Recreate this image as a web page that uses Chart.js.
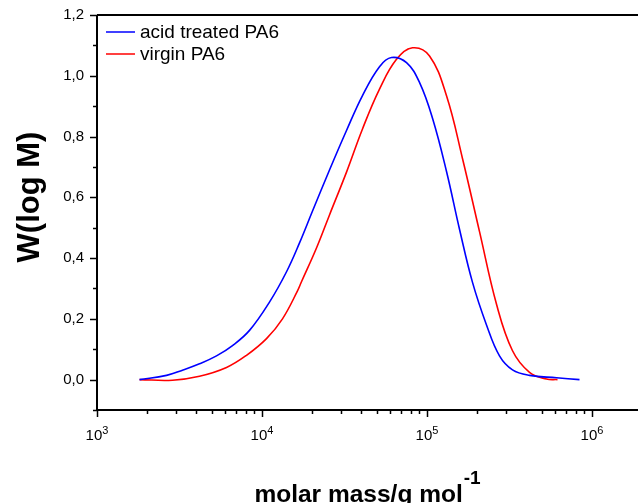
<!DOCTYPE html>
<html>
<head>
<meta charset="utf-8">
<script src="https://cdn.jsdelivr.net/npm/chart.js@4.4.1/dist/chart.umd.min.js"></script>
<style>
  body { margin: 0; background: #fff; }
  canvas { display: block; }
</style>
</head>
<body>
<canvas id="mwd-chart" width="638" height="503"></canvas>
<script>
// molar mass (g/mol) and W(log M)
const massAcid = [1810, 2638, 3298, 4181, 5300, 6625, 8401, 11100, 14080, 16880, 20240, 25650, 32520, 40650, 51540, 60930, 75130, 90050, 108000, 131300, 157400, 188700, 229400, 275000, 329800, 418100, 609300, 839900];
const wAcid = [0, 0.014, 0.031, 0.052, 0.078, 0.112, 0.162, 0.255, 0.355, 0.450, 0.555, 0.690, 0.820, 0.935, 1.030, 1.060, 1.043, 0.978, 0.860, 0.685, 0.495, 0.320, 0.180, 0.078, 0.032, 0.014, 0.006, 0];

const massVirgin = [1810, 2869, 4181, 6093, 8055, 10650, 13310, 16410, 17350, 21390, 25650, 32520, 40650, 51540, 65340, 81680, 103600, 131300, 164200, 208100, 263800, 329800, 418100, 530000, 618000];
const wVirgin = [0, -0.002, 0.011, 0.040, 0.080, 0.135, 0.200, 0.292, 0.322, 0.433, 0.542, 0.683, 0.825, 0.956, 1.054, 1.092, 1.065, 0.934, 0.727, 0.487, 0.248, 0.095, 0.024, 0.002, 0];

const seriesNames = ["acid treated PA6", "virgin PA6"];
const seriesColors = ["#0000ff", "#ff0000"];
const xDecades = [3, 4, 5, 6];
const yTitle = "W(log M)";
const xTitle = "molar mass/g mol";
const xTitleSup = "-1";

const FONT = "'Liberation Sans', Arial, sans-serif";

function toPoints(xs, ys) {
  return xs.map((x, i) => ({ x: x, y: ys[i] }));
}

// axes, ticks, titles and legend in the Origin style
const framePlugin = {
  id: 'frame',
  afterDraw(chart) {
    const ctx = chart.ctx;
    const area = chart.chartArea;
    const xs = chart.scales.x;
    const ys = chart.scales.y;
    ctx.save();
    ctx.strokeStyle = '#000';
    ctx.lineWidth = 2;
    ctx.beginPath();
    ctx.moveTo(area.left, area.top);
    ctx.lineTo(area.right, area.top);
    ctx.moveTo(area.left, area.top);
    ctx.lineTo(area.left, area.bottom);
    ctx.lineTo(area.right, area.bottom);
    ctx.stroke();

    // y ticks
    ctx.lineWidth = 1.5;
    for (let i = -1; i <= 12; i++) {
      const py = Math.round(ys.getPixelForValue(i / 10)) + 0.5;
      const len = (i % 2 === 0) ? 7 : 4;
      ctx.beginPath();
      ctx.moveTo(area.left - len, py);
      ctx.lineTo(area.left, py);
      ctx.stroke();
    }

    // x ticks
    xDecades.forEach(d => {
      for (let k = 1; k <= 9; k++) {
        const m = k * Math.pow(10, d);
        if (m > xs.max) break;
        const px = Math.round(xs.getPixelForValue(m)) + 0.5;
        const len = k === 1 ? 7 : 4;
        ctx.beginPath();
        ctx.moveTo(px, area.bottom);
        ctx.lineTo(px, area.bottom + len);
        ctx.stroke();
      }
    });

    // x tick labels 10^n
    ctx.fillStyle = '#000';
    ctx.textBaseline = 'alphabetic';
    xDecades.forEach(d => {
      const px = xs.getPixelForValue(Math.pow(10, d));
      ctx.font = '15px ' + FONT;
      const wBase = ctx.measureText('10').width;
      ctx.font = '11px ' + FONT;
      const wExp = ctx.measureText(String(d)).width;
      const x0 = px - (wBase + wExp) / 2;
      ctx.textAlign = 'left';
      ctx.font = '15px ' + FONT;
      ctx.fillText('10', x0, 440);
      ctx.font = '11px ' + FONT;
      ctx.fillText(String(d), x0 + wBase, 434);
    });

    // y title
    ctx.save();
    ctx.translate(30, 197);
    ctx.rotate(-Math.PI / 2);
    ctx.font = 'bold 31px ' + FONT;
    ctx.textAlign = 'center';
    ctx.textBaseline = 'middle';
    ctx.fillText(yTitle, 0, 0);
    ctx.restore();

    // x title with superscript
    ctx.font = 'bold 24.5px ' + FONT;
    const wt = ctx.measureText(xTitle).width;
    ctx.font = 'bold 19px ' + FONT;
    const ws = ctx.measureText(xTitleSup).width;
    const tx = 367 - (wt + ws) / 2;
    ctx.textAlign = 'left';
    ctx.font = 'bold 24.5px ' + FONT;
    ctx.fillText(xTitle, tx, 502);
    ctx.font = 'bold 19px ' + FONT;
    ctx.fillText(xTitleSup, tx + wt + 1, 484);

    // legend
    ctx.font = '19px ' + FONT;
    ctx.textBaseline = 'middle';
    seriesNames.forEach((name, i) => {
      const ly = 32 + i * 22;
      ctx.strokeStyle = seriesColors[i];
      ctx.lineWidth = 1.5;
      ctx.beginPath();
      ctx.moveTo(106, ly);
      ctx.lineTo(135, ly);
      ctx.stroke();
      ctx.fillStyle = '#000';
      ctx.fillText(name, 140, ly + 1);
    });
    ctx.restore();
  }
};

new Chart(document.getElementById('mwd-chart'), {
  type: 'line',
  data: {
    datasets: [
      {
        label: seriesNames[0],
        data: toPoints(massAcid, wAcid),
        borderColor: seriesColors[0],
        borderWidth: 1.6,
        pointRadius: 0,
        fill: false,
        tension: 0.4
      },
      {
        label: seriesNames[1],
        data: toPoints(massVirgin, wVirgin),
        borderColor: seriesColors[1],
        borderWidth: 1.6,
        pointRadius: 0,
        fill: false,
        tension: 0.4
      }
    ]
  },
  options: {
    responsive: false,
    animation: false,
    layout: { padding: { top: 12, right: 0, bottom: 93, left: 0 } },
    plugins: {
      legend: { display: false },
      tooltip: { enabled: false }
    },
    scales: {
      x: {
        type: 'logarithmic',
        display: false,
        min: 1000,
        max: 1.9e6
      },
      y: {
        min: -0.1,
        max: 1.2,
        afterFit(scale) { scale.width = 97; },
        border: { display: false },
        grid: { drawOnChartArea: false, color: 'transparent', tickLength: 7 },
        ticks: {
          stepSize: 0.1,
          padding: 6,
          color: '#000',
          font: { family: FONT, size: 15 },
          callback(v) {
            const n = Math.round(v * 10);
            return n % 2 === 0 ? (n / 10).toFixed(1).replace('.', ',') : '';
          }
        }
      }
    }
  },
  plugins: [framePlugin]
});
</script>
</body>
</html>
